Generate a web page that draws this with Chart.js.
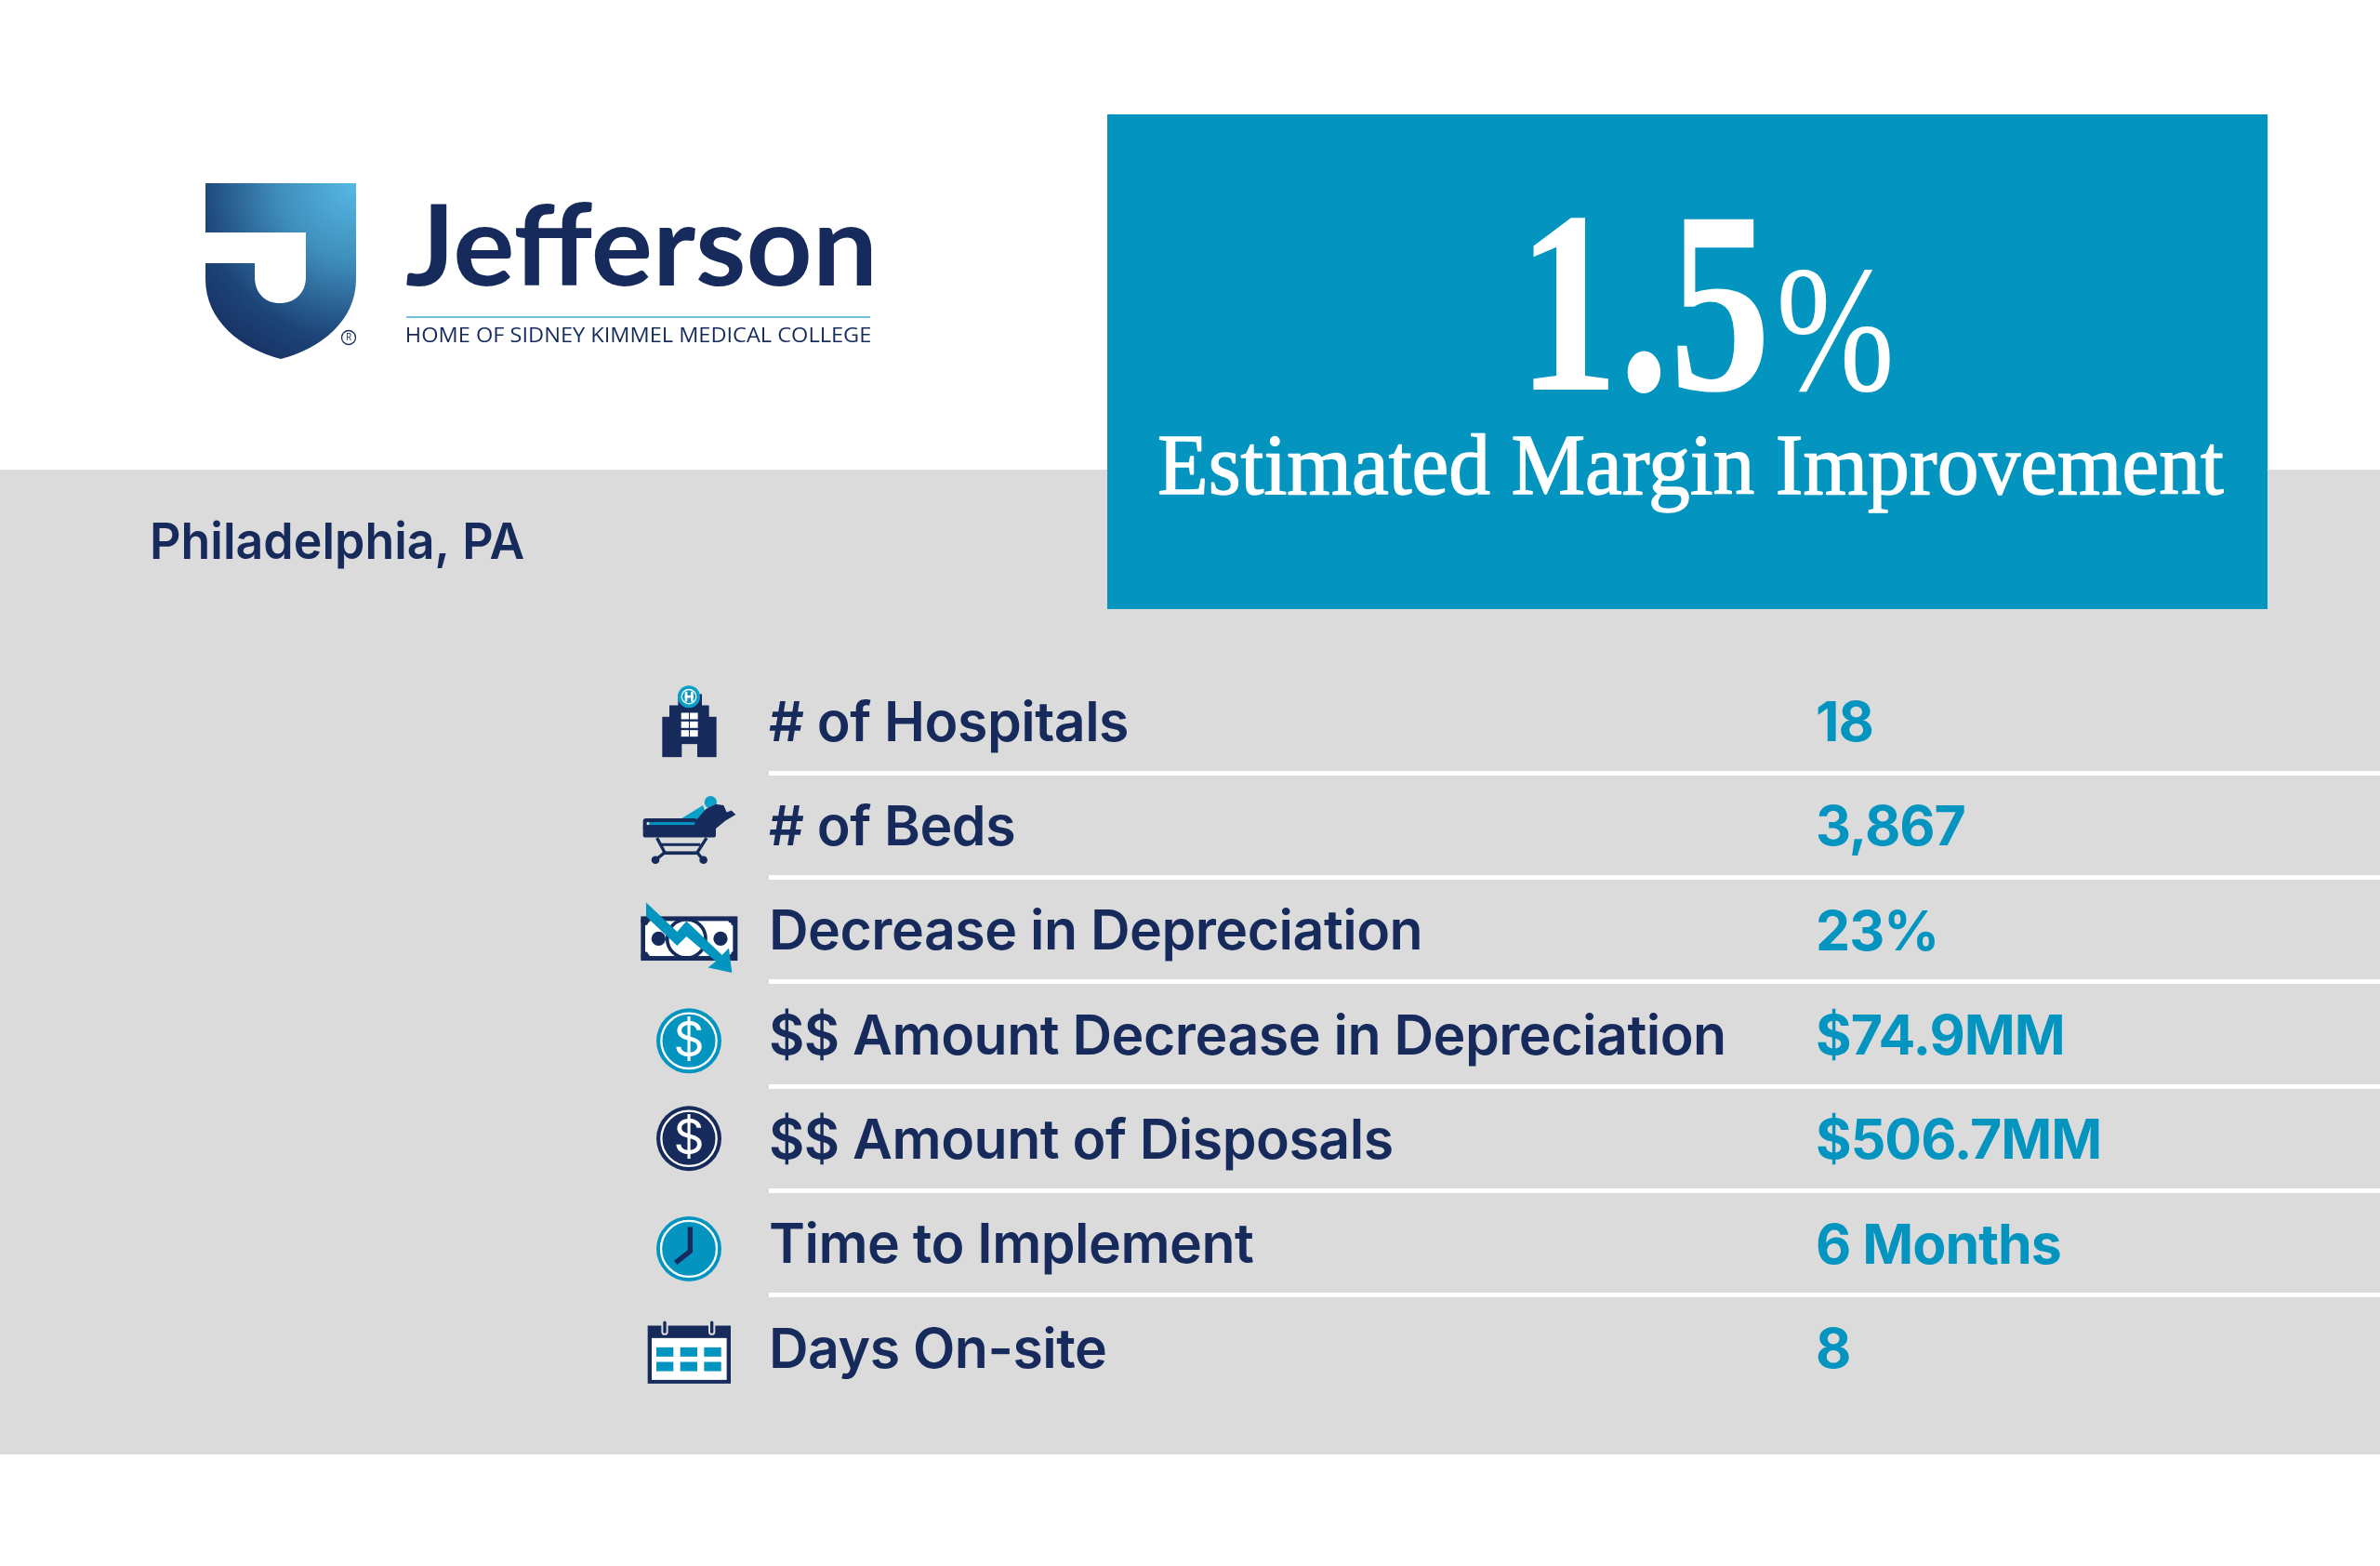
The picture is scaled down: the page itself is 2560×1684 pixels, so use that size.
<!DOCTYPE html>
<html><head><meta charset="utf-8">
<style>html,body{margin:0;padding:0;background:#fff}canvas{display:block}</style>
<script src="https://cdn.jsdelivr.net/npm/chart.js@4/dist/chart.umd.min.js"></script>
</head><body>
<canvas id="c" width="2560" height="1684" style="width:2560px;height:1684px"></canvas>
<script>
const categories = ["# of Hospitals","# of Beds","Decrease in Depreciation","$$ Amount Decrease in Depreciation","$$ Amount of Disposals","Time to Implement","Days On-site"];
const rowValues = [18,3867,23,74.9,506.7,6,8];
const valueLabels = ["18","3,867","23%","$74.9MM","$506.7MM","6 Months","8"];
const headline = "1.5";
const headlineUnit = "%";
const headlineCaption = "Estimated Margin Improvement";
const place = "Philadelphia, PA";
const brand = "Jefferson";
const brandTag = "HOME OF SIDNEY KIMMEL MEDICAL COLLEGE";

const NAVY="#162a5b", TEAL="#0494c0", GREY="#dbdbdb";

function fit(ctx,text,x,base,width,font,color,stroke){
  ctx.save();ctx.font=font;ctx.fillStyle=color;ctx.textAlign="left";ctx.textBaseline="alphabetic";
  const m=ctx.measureText(text);
  const ink=m.actualBoundingBoxRight+m.actualBoundingBoxLeft;
  const k=width/ink;
  ctx.translate(x,base);ctx.scale(k,1);
  ctx.fillText(text,m.actualBoundingBoxLeft,0);
  if(stroke){ctx.strokeStyle=color;ctx.lineWidth=stroke;ctx.lineJoin="round";ctx.strokeText(text,m.actualBoundingBoxLeft,0);}
  ctx.restore();
}
function poly(ctx,pts,color){ctx.fillStyle=color;ctx.beginPath();pts.forEach((p,i)=>i?ctx.lineTo(p[0],p[1]):ctx.moveTo(p[0],p[1]));ctx.closePath();ctx.fill();}
function rect(ctx,x0,y0,x1,y1,c){ctx.fillStyle=c;ctx.fillRect(x0,y0,x1-x0,y1-y0);}
function disc(ctx,x,y,r,c){ctx.fillStyle=c;ctx.beginPath();ctx.arc(x,y,r,0,Math.PI*2);ctx.fill();}
function ring(ctx,x,y,r,w,c){ctx.strokeStyle=c;ctx.lineWidth=w;ctx.beginPath();ctx.arc(x,y,r,0,Math.PI*2);ctx.stroke();}
function seg(ctx,pts,w,c,cap){ctx.strokeStyle=c;ctx.lineWidth=w;ctx.lineCap=cap||"butt";ctx.lineJoin="miter";ctx.beginPath();pts.forEach((p,i)=>i?ctx.lineTo(p[0],p[1]):ctx.moveTo(p[0],p[1]));ctx.stroke();}

const icons=[
 function hospital(ctx){
  rect(ctx,127,155,302,285,NAVY);rect(ctx,150,118,278,160,NAVY);rect(ctx,178,82,255,120,NAVY);
  disc(ctx,213,90,36,"#0aa0c8");disc(ctx,213,90,25,"#ffffff");disc(ctx,213,90,21,TEAL);
  rect(ctx,200,74,208,106,"#fff");rect(ctx,219,74,227,106,"#fff");rect(ctx,200,86,227,94,"#fff");
  for(let r=0;r<3;r++)for(let c=0;c<2;c++)rect(ctx,188+c*28,142+r*28,213+c*29,163+r*28,"#fff");
  rect(ctx,190,243,240,290,GREY);
 },
 function bed(ctx){
  poly(ctx,[[190,482],[258,440],[270,470],[240,490]],"#0aa0c8");disc(ctx,283,430,20,"#0aa0c8");
  poly(ctx,[[230,495],[268,452],[300,436],[325,440],[335,462],[350,456],[364,470],[330,490],[300,515],[298,530],[230,530]],NAVY);
  ctx.fillStyle=NAVY;ctx.beginPath();ctx.roundRect(65,482,175,40,10);ctx.fill();
  ctx.beginPath();ctx.roundRect(65,505,235,38,6);ctx.fill();
  rect(ctx,85,494,232,503,TEAL);rect(ctx,77,494,85,503,"#e8e8e8");
  seg(ctx,[[110,545],[135,592],[100,620]],10,NAVY);
  seg(ctx,[[270,545],[240,592],[262,620]],10,NAVY);
  rect(ctx,120,562,250,571,NAVY);rect(ctx,128,588,245,599,NAVY);
  disc(ctx,105,616,13,NAVY);disc(ctx,260,616,13,NAVY);
 },
 function money(ctx){
  rect(ctx,58,800,370,943,NAVY);rect(ctx,72,815,355,928,"#fff");
  [[72,815],[355,815],[72,928],[355,928]].forEach(p=>disc(ctx,p[0],p[1],14,NAVY));
  [[85,825],[345,825],[85,918],[345,918]].forEach(p=>disc(ctx,p[0],p[1],5,"#fff"));
  disc(ctx,115,872,23,NAVY);disc(ctx,315,872,23,NAVY);
  ring(ctx,205,872,62,11,NAVY);
  poly(ctx,[[75,755],[175,850],[205,815],[320,925],[342,902],[352,982],[275,965],[300,945],[205,865],[175,895],[75,800]],TEAL);
 },
 function coin(ctx){dollar(ctx,178,TEAL);},
 function coin2(ctx){dollar(ctx,495,NAVY);},
 function clock(ctx){
  disc(ctx,213,850,105,TEAL);ring(ctx,213,850,90,7,"#fff");
  seg(ctx,[[217,780],[217,858],[170,895]],16,NAVY);
 },
 function calendar(ctx){
  rect(ctx,80,1100,348,1287,NAVY);rect(ctx,93,1140,335,1275,"#fff");
  [108,185,262].forEach(x=>{[1170,1217].forEach(y=>rect(ctx,x,y,x+55,y+30,TEAL));});
  [135,287].forEach(x=>{seg(ctx,[[x,1090],[x,1120]],22,GREY,"round");seg(ctx,[[x,1090],[x,1120]],10,NAVY,"round");});
 }
];
function dollar(ctx,cy,fill){
  disc(ctx,213,cy,105,fill);ring(ctx,213,cy,89,7,"#fff");
  ctx.fillStyle="#fff";ctx.font="400 155px Inter";ctx.textAlign="center";ctx.textBaseline="middle";ctx.fillText("$",213,cy+4);
}
const iconOffsets=[55,167,280,51,164,276,389];

const decor={id:"decor",
 beforeDraw(chart){
  const ctx=chart.ctx;
  ctx.save();
  rect(ctx,0,0,2560,1684,"#fff");
  rect(ctx,0,505,2560,1564,GREY);
  rect(ctx,1191,123,2439,655,TEAL);
  const g=ctx.createRadialGradient(383,197,0,383,197,235);
  g.addColorStop(0,"#57b8e4");g.addColorStop(.35,"#3f8fbd");g.addColorStop(.72,"#1d4478");g.addColorStop(1,"#152a5c");
  ctx.fillStyle=g;ctx.beginPath();ctx.moveTo(221,197);ctx.lineTo(383,197);ctx.lineTo(383,300);
  ctx.bezierCurveTo(383,345,345,375,302,386);ctx.bezierCurveTo(259,375,221,345,221,300);ctx.closePath();ctx.fill();
  ctx.fillStyle="#fff";ctx.beginPath();ctx.moveTo(221,250);ctx.lineTo(329,250);ctx.lineTo(329,298);
  ctx.bezierCurveTo(329,316,316,326,301,326);ctx.bezierCurveTo(286,326,274,316,274,298);ctx.lineTo(274,283);ctx.lineTo(221,283);ctx.closePath();ctx.fill();
  ring(ctx,375,363,7.5,1.3,NAVY);
  ctx.fillStyle=NAVY;ctx.font="10px 'Open Sans'";ctx.textAlign="center";ctx.textBaseline="middle";ctx.fillText("R",375,363.5);
  fit(ctx,brand,437,307,500,"700 120px Lato",NAVY);
  rect(ctx,437,340,936,342,"#6fbfdd");
  fit(ctx,brandTag,438,368,498,"400 22px 'Open Sans'",NAVY);
  fit(ctx,place,164,601,399,"600 54px Inter",NAVY);
  fit(ctx,headline,1649,419,249,"700 280px 'Liberation Serif'","#fff");
  fit(ctx,headlineUnit,1915,419,118,"400 196px 'Liberation Serif'","#fff");
  fit(ctx,headlineCaption,1247,531,1145,"400 93px 'Liberation Serif'","#fff",1.4);
  ctx.restore();
  ctx.letterSpacing="-0.5px";
 },
 afterDatasetsDraw(chart){
  chart.ctx.save();chart.ctx.translate(0,4);
 },
 afterDraw(chart){
  const ctx=chart.ctx,y=chart.scales.y;
  ctx.restore();
  ctx.letterSpacing="0px";
  ctx.save();
  categories.forEach((_,i)=>{
   const py=y.getPixelForValue(i);
   ctx.save();ctx.translate(670,py-iconOffsets[i]-1);ctx.scale(1/3,1/3);icons[i](ctx);ctx.restore();
   ctx.fillStyle=TEAL;ctx.font="700 59px Inter";ctx.textAlign="left";ctx.textBaseline="alphabetic";
   ctx.letterSpacing="-1px";
   ctx.fillText(valueLabels[i],1953,py+22);
   ctx.letterSpacing="0px";
  });
  ctx.restore();
 }
};

new Chart(document.getElementById("c"),{
 type:"bar",
 data:{labels:categories,datasets:[{label:"Value",data:rowValues,backgroundColor:"rgba(0,0,0,0)",borderWidth:0}]},
 plugins:[decor],
 options:{
  indexAxis:"y",responsive:false,animation:false,devicePixelRatio:1,
  layout:{padding:{left:827,top:719,bottom:179,right:0}},
  plugins:{legend:{display:false},tooltip:{enabled:false},title:{display:false}},
  scales:{
   x:{display:false,min:0,max:1e6},
   y:{
    afterFit(s){s.width=0;},
    border:{display:false},
    grid:{drawTicks:false,lineWidth:5,color:c=>(c.index===0||c.index===undefined)?"rgba(0,0,0,0)":"#ffffff"},
    ticks:{z:1,mirror:true,padding:0,color:NAVY,font:{family:"Inter",weight:"600",size:59},autoSkip:false}
   }
  }
 }
});
</script>
</body></html>
